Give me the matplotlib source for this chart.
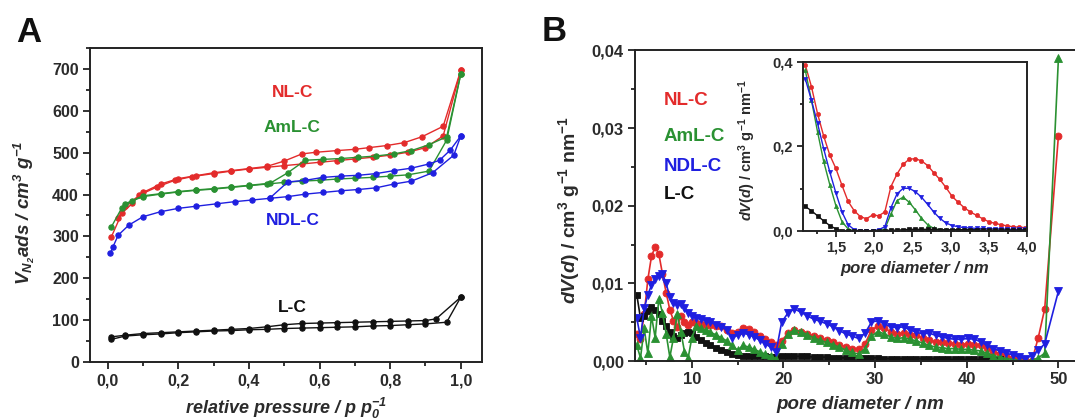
import numpy as np
import matplotlib
matplotlib.use("Agg")
import matplotlib.pyplot as plt
from matplotlib.ticker import MultipleLocator, FuncFormatter

plt.rcParams["font.family"] = ["Liberation Sans", "DejaVu Sans"]
plt.rcParams["mathtext.fontset"] = "custom"
plt.rcParams["mathtext.rm"] = "Liberation Sans:bold"
plt.rcParams["mathtext.it"] = "Liberation Sans:bold:italic"
plt.rcParams["mathtext.bf"] = "Liberation Sans:bold"
plt.rcParams["mathtext.default"] = "regular"

RED, GREEN, BLUE, BLACK = "#e32b2b", "#2a9132", "#1f1fe0", "#111111"
TXT = "#2b2b2b"

# ---------------- panel A: N2 sorption isotherms ----------------
samples = ["NL-C", "AmL-C", "NDL-C", "L-C"]

nlc_p_ads = [0.01, 0.04, 0.07, 0.09, 0.14, 0.19, 0.24, 0.30, 0.35, 0.40, 0.45,
             0.50, 0.55, 0.60, 0.65, 0.70, 0.75, 0.80, 0.85, 0.90, 0.95, 1.00]
nlc_v_ads = [298, 355, 379, 399, 418, 434, 443, 450, 456, 461, 465,
             469, 473, 477, 481, 485, 489, 494, 501, 512, 540, 697]
nlc_p_des = [1.00, 0.95, 0.89, 0.84, 0.79, 0.74, 0.70, 0.65, 0.59, 0.55, 0.50,
             0.45, 0.40, 0.35, 0.30, 0.25, 0.20, 0.15, 0.10, 0.05, 0.03]
nlc_v_des = [697, 563, 538, 524, 517, 512, 508, 505, 501, 497, 480,
             467, 462, 457, 452, 445, 438, 425, 405, 372, 345]

aml_p_ads = [0.01, 0.04, 0.07, 0.10, 0.15, 0.20, 0.25, 0.30, 0.35, 0.40, 0.45,
             0.50, 0.55, 0.60, 0.65, 0.70, 0.75, 0.80, 0.85, 0.91, 0.96, 1.00]
aml_v_ads = [322, 368, 385, 395, 401, 406, 410, 413, 417, 421, 425,
             429, 432, 434, 437, 439, 441, 444, 447, 456, 530, 688]
aml_p_des = [1.00, 0.96, 0.91, 0.86, 0.81, 0.76, 0.71, 0.66, 0.61, 0.56, 0.51,
             0.46, 0.40, 0.35, 0.30, 0.25, 0.20, 0.15, 0.10, 0.05]
aml_v_des = [688, 538, 519, 505, 497, 492, 489, 486, 484, 482, 452,
             427, 422, 418, 414, 411, 407, 402, 397, 378]

ndl_p_ads = [0.008, 0.015, 0.03, 0.06, 0.10, 0.15, 0.20, 0.25, 0.31, 0.36, 0.41,
             0.46, 0.51, 0.56, 0.61, 0.66, 0.71, 0.76, 0.81, 0.86, 0.92, 0.98, 1.00]
ndl_v_ads = [260, 275, 303, 327, 347, 359, 367, 372, 378, 383, 387,
             391, 395, 401, 405, 409, 412, 416, 425, 432, 452, 494, 540]
ndl_p_des = [1.00, 0.97, 0.94, 0.91, 0.86, 0.81, 0.76, 0.71, 0.66, 0.61, 0.56,
             0.51, 0.46]
ndl_v_des = [540, 506, 482, 473, 463, 457, 450, 446, 444, 441, 434,
             430, 392]

lc_p_ads = [0.01, 0.05, 0.10, 0.15, 0.20, 0.25, 0.30, 0.35, 0.40, 0.45, 0.50,
            0.55, 0.60, 0.65, 0.70, 0.75, 0.80, 0.85, 0.90, 0.96, 1.00]
lc_v_ads = [54, 62, 65, 67, 70, 72, 74, 75, 77, 78, 80,
            81, 82, 83, 84, 86, 87, 89, 91, 95, 155]
lc_p_des = [1.00, 0.93, 0.90, 0.85, 0.80, 0.75, 0.70, 0.65, 0.60, 0.55, 0.50,
            0.45, 0.40, 0.35, 0.30, 0.25, 0.20, 0.15, 0.10, 0.05, 0.01]
lc_v_des = [155, 103, 99, 98, 97, 96, 95, 94, 93, 92, 89,
            84, 80, 78, 76, 74, 72, 70, 68, 64, 60]

# ---------------- panel B: pore size distribution ----------------
pore_d = [4.0, 4.4, 4.8, 5.2, 5.6, 6.0, 6.4, 6.8, 7.2, 7.6, 8.0, 8.4, 8.8, 9.2, 9.6, 10.0,
          10.5, 11.0, 11.5, 12.0,
          12.6, 13.2, 13.8, 14.4, 15.0, 15.6, 16.2, 16.8, 17.4, 18.0, 18.6, 19.2, 19.8,
          20.5, 21.2, 21.9, 22.6, 23.3, 24.0, 24.7, 25.4, 26.1, 26.8, 27.5, 28.2, 28.9, 29.6,
          30.3, 31.0, 31.7, 32.4, 33.1, 33.8, 34.5, 35.2, 35.9, 36.6, 37.3, 38.0, 38.7, 39.4,
          40.1, 40.8, 41.5, 42.2, 42.9, 43.6, 44.3, 45.0, 45.7, 46.4, 47.1, 47.8,
          48.5, 50.0]

psd_nlc = [0.0035, 0.0028, 0.0060, 0.0105, 0.0135, 0.0147, 0.0138, 0.0112, 0.0088, 0.0066,
           0.0052, 0.0044, 0.0058, 0.0050, 0.0047, 0.0050,
           0.0049, 0.0048, 0.0047, 0.0046,
           0.0045, 0.0045, 0.0040, 0.0036, 0.0038, 0.0042, 0.0041, 0.0037, 0.0032, 0.0028,
           0.0024, 0.0020, 0.0026,
           0.0036, 0.0040, 0.0038, 0.0035, 0.0032, 0.0030, 0.0027, 0.0025, 0.0021, 0.0018,
           0.0016, 0.0015, 0.0022, 0.0040, 0.0045, 0.0042, 0.0038, 0.0035, 0.0036, 0.0034,
           0.0033, 0.0029, 0.0027, 0.0025, 0.0024, 0.0023, 0.0022, 0.0021, 0.0022, 0.0021,
           0.0020, 0.0017, 0.0012, 0.0009, 0.0006, 0.0004, 0.0002, 0.0001, 0.0000, 0.0030,
           0.0067, 0.0290]
psd_aml = [0.0020, 0.0004, 0.0042, 0.0010, 0.0058, 0.0030, 0.0080, 0.0062, 0.0035, 0.0005,
           0.0030, 0.0060, 0.0038, 0.0012, 0.0004, 0.0030,
           0.0045, 0.0042, 0.0040, 0.0037,
           0.0034, 0.0030, 0.0026, 0.0020, 0.0014, 0.0020, 0.0018, 0.0015, 0.0012, 0.0009,
           0.0006, 0.0003, 0.0022,
           0.0035, 0.0040, 0.0038, 0.0034, 0.0030, 0.0027, 0.0024, 0.0021, 0.0018, 0.0014,
           0.0011, 0.0009, 0.0016, 0.0032, 0.0038, 0.0035, 0.0031, 0.0029, 0.0030, 0.0028,
           0.0026, 0.0023, 0.0020, 0.0018, 0.0017, 0.0016, 0.0016, 0.0015, 0.0015, 0.0014,
           0.0013, 0.0010, 0.0007, 0.0005, 0.0003, 0.0002, 0.0001, 0.0000, 0.0001, 0.0004,
           0.0010, 0.0390]
psd_ndl = [0.0055, 0.0030, 0.0068, 0.0085, 0.0098, 0.0106, 0.0110, 0.0112, 0.0100, 0.0082,
           0.0075, 0.0072, 0.0073, 0.0068, 0.0062, 0.0058,
           0.0055, 0.0054, 0.0052, 0.0050,
           0.0047, 0.0044, 0.0040, 0.0030, 0.0033, 0.0036, 0.0034, 0.0031, 0.0027, 0.0022,
           0.0018, 0.0012, 0.0050,
           0.0062, 0.0067, 0.0063, 0.0058, 0.0054, 0.0051, 0.0048, 0.0044, 0.0039, 0.0035,
           0.0032, 0.0029, 0.0036, 0.0050, 0.0052, 0.0048, 0.0044, 0.0043, 0.0044, 0.0040,
           0.0037, 0.0035, 0.0036, 0.0033, 0.0031, 0.0029, 0.0028, 0.0028, 0.0029, 0.0028,
           0.0025, 0.0020, 0.0016, 0.0013, 0.0010, 0.0008, 0.0005, 0.0003, 0.0007, 0.0014,
           0.0022, 0.0090]
psd_lc = [0.0085, 0.0055, 0.0058, 0.0065, 0.0070, 0.0066, 0.0060, 0.0052, 0.0045, 0.0038,
          0.0032, 0.0030, 0.0033, 0.0036, 0.0038, 0.0036,
          0.0031, 0.0027, 0.0023, 0.0020,
          0.0017, 0.0014, 0.0011, 0.0009, 0.0008, 0.0007, 0.0007, 0.0006, 0.0006, 0.0006,
          0.0005, 0.0005, 0.0007,
          0.0007, 0.0006, 0.0006, 0.0006, 0.0005, 0.0005, 0.0005, 0.0004, 0.0004, 0.0004,
          0.0004, 0.0004, 0.0004, 0.0004, 0.0004, 0.0003, 0.0003, 0.0003, 0.0003, 0.0003,
          0.0003, 0.0003, 0.0003, 0.0003, 0.0002, 0.0002, 0.0002, 0.0002, 0.0002, 0.0002,
          0.0002, 0.0002, 0.0002, 0.0002, np.nan, np.nan, np.nan, np.nan, np.nan, np.nan,
          np.nan, np.nan]

# micropore region (inset)
inset_d = [1.10, 1.18, 1.26, 1.34, 1.42, 1.50, 1.58, 1.66, 1.74, 1.82, 1.90, 1.98, 2.06,
           2.14, 2.22, 2.30, 2.38, 2.46, 2.54, 2.62, 2.70, 2.78, 2.86, 2.94, 3.02, 3.10,
           3.18, 3.26, 3.34, 3.42, 3.50, 3.58, 3.66, 3.74, 3.82, 3.90, 3.98]
inset_nlc = [0.393, 0.342, 0.278, 0.225, 0.180, 0.148, 0.108, 0.070, 0.048, 0.034, 0.029,
             0.038, 0.036, 0.045, 0.105, 0.135, 0.158, 0.170, 0.171, 0.166, 0.155, 0.138,
             0.122, 0.103, 0.082, 0.068, 0.055, 0.045, 0.037, 0.029, 0.022, 0.018, 0.015,
             0.012, 0.010, 0.009, 0.008]
inset_aml = [0.380, 0.310, 0.235, 0.165, 0.110, 0.060, 0.022, 0.005, 0.000, 0.000, 0.000,
             0.000, 0.000, 0.005, 0.040, 0.072, 0.080, 0.068, 0.050, 0.030, 0.015, 0.006,
             0.003, 0.002, 0.002, 0.002, 0.002, 0.002, 0.001, 0.001, 0.001, 0.001, 0.001,
             0.001, 0.001, 0.001, 0.001]
inset_ndl = [0.360, 0.310, 0.255, 0.195, 0.140, 0.090, 0.045, 0.015, 0.003, 0.000, 0.000,
             0.001, 0.003, 0.010, 0.055, 0.088, 0.101, 0.101, 0.093, 0.080, 0.063, 0.045,
             0.030, 0.019, 0.013, 0.010, 0.008, 0.007, 0.006, 0.006, 0.005, 0.005, 0.005,
             0.004, 0.004, 0.004, 0.004]
inset_lc = [0.058, 0.048, 0.036, 0.024, 0.013, 0.005, 0.001, 0.000, 0.000, 0.000, 0.000,
            0.000, 0.001, 0.001, 0.002, 0.002, 0.003, 0.004, 0.004, 0.004, 0.004, 0.004,
            0.003, 0.003, 0.003, 0.003, 0.003, 0.003, 0.003, 0.002, 0.002, 0.002, 0.002,
            0.002, 0.002, 0.002, 0.002]


def comma(decimals):
    return FuncFormatter(lambda v, _: f"{v:.{decimals}f}".replace(".", ","))


def style_axes(ax, size):
    for side in ("left", "bottom", "top", "right"):
        ax.spines[side].set_linewidth(1.4)
        ax.spines[side].set_color("#222222")
    ax.tick_params(which="both", direction="out", top=False, right=False,
                   colors="#222222", labelcolor=TXT, width=1.3, labelsize=size)
    ax.tick_params(which="major", length=5, pad=3)
    ax.tick_params(which="minor", length=3)
    for lab in ax.get_xticklabels() + ax.get_yticklabels():
        lab.set_fontweight("bold")


fig = plt.figure(figsize=(10.75, 4.19), dpi=100)
W, H = 1075.0, 419.0
LABEL = dict(fontweight="bold", color=TXT)

# ---- A ----
axA = fig.add_axes([90 / W, 1 - 362 / H, 392 / W, 314 / H])
mk = dict(marker="o", markersize=3.8, linewidth=1.0, markeredgewidth=0.8)
iso = [
    (nlc_p_ads, nlc_v_ads, nlc_p_des, nlc_v_des, RED),
    (aml_p_ads, aml_v_ads, aml_p_des, aml_v_des, GREEN),
    (ndl_p_ads, ndl_v_ads, ndl_p_des, ndl_v_des, BLUE),
    (lc_p_ads, lc_v_ads, lc_p_des, lc_v_des, BLACK),
]
for pa, va, pd, vd, c in iso:
    axA.plot(pa, va, color=c, **mk)
    axA.plot(pd, vd, color=c, **mk)
axA.set_xlim(-0.05, 1.06)
axA.set_ylim(0, 750)
axA.xaxis.set_major_locator(MultipleLocator(0.2))
axA.xaxis.set_minor_locator(MultipleLocator(0.1))
axA.yaxis.set_major_locator(MultipleLocator(100))
axA.yaxis.set_minor_locator(MultipleLocator(50))
axA.xaxis.set_major_formatter(comma(1))
style_axes(axA, 11.5)
axA.set_xlabel(r"relative pressure / p p$_0^{-1}$", fontsize=13, style="italic", **LABEL)
axA.set_ylabel(r"V$_{N_2}$ads / cm$^3$ g$^{-1}$", fontsize=13.5, style="italic", **LABEL)
axA.xaxis.set_label_coords(0.5, -0.108)
axA.yaxis.set_label_coords(-0.135, 0.475)
for name, y, c in zip(samples, [643, 561, 337, 129], [RED, GREEN, BLUE, BLACK]):
    axA.text(0.523, y, name, color=c, fontsize=12.5, fontweight="bold",
             ha="center", va="center")

# ---- B ----
axB = fig.add_axes([635 / W, 1 - 361 / H, 450 / W, 310.5 / H])
series = [
    (psd_nlc, RED, "o", 5.0),
    (psd_lc, BLACK, "s", 4.2),
    (psd_aml, GREEN, "^", 5.4),
    (psd_ndl, BLUE, "v", 5.4),
]
for vals, c, m, ms in series:
    axB.plot(pore_d, vals, color=c, marker=m, markersize=ms, linewidth=1.2,
             markeredgewidth=0.6)
axB.set_xlim(3.8, 52.9)
axB.set_ylim(0, 0.04)
axB.set_xticks([10, 20, 30, 40, 50])
axB.xaxis.set_minor_locator(MultipleLocator(5))
axB.yaxis.set_major_locator(MultipleLocator(0.01))
axB.yaxis.set_minor_locator(MultipleLocator(0.005))
axB.yaxis.set_major_formatter(comma(2))
style_axes(axB, 12)
axB.spines["right"].set_visible(False)
axB.set_xlabel("pore diameter / nm", fontsize=13.5, style="italic", **LABEL)
axB.set_ylabel(r"$\mathit{dV(d)}$ / cm$^3$ g$^{-1}$ nm$^{-1}$", fontsize=14, **LABEL)
axB.xaxis.set_label_coords(0.5, -0.113)
axB.yaxis.set_label_coords(-0.118, 0.486)
for name, y, c in zip(samples, [0.0335, 0.0289, 0.0250, 0.0214], [RED, GREEN, BLUE, BLACK]):
    axB.text(6.9, y, name, color=c, fontsize=13.5, fontweight="bold",
             ha="left", va="center")

# ---- inset ----
axI = fig.add_axes([803 / W, 1 - 231 / H, 224 / W, 169 / H])
inset = [
    (inset_nlc, RED, "o"),
    (inset_aml, GREEN, "^"),
    (inset_ndl, BLUE, "v"),
    (inset_lc, BLACK, "s"),
]
for vals, c, m in inset:
    axI.plot(inset_d, vals, color=c, marker=m, markersize=3.0, linewidth=1.0,
             markeredgewidth=0.5)
axI.set_xlim(1.07, 4.0)
axI.set_ylim(0, 0.4)
axI.set_xticks([1.5, 2.0, 2.5, 3.0, 3.5, 4.0])
axI.xaxis.set_minor_locator(MultipleLocator(0.25))
axI.yaxis.set_major_locator(MultipleLocator(0.2))
axI.yaxis.set_minor_locator(MultipleLocator(0.1))
axI.xaxis.set_major_formatter(comma(1))
axI.yaxis.set_major_formatter(comma(1))
style_axes(axI, 10.5)
axI.tick_params(which="major", length=4)
axI.tick_params(which="minor", length=2.5)
axI.set_xlabel("pore diameter / nm", fontsize=12, style="italic", **LABEL)
axI.set_ylabel(r"$\mathit{dV(d)}$ / cm$^3$ g$^{-1}$ nm$^{-1}$", fontsize=10.5, **LABEL)
axI.xaxis.set_label_coords(0.5, -0.175)
axI.yaxis.set_label_coords(-0.2, 0.48)

# panel letters
fig.text(16 / W, 1 - 42 / H, "A", fontsize=25, fontweight="bold", color="#111111",
         va="baseline", ha="left")
fig.text(542 / W, 1 - 41 / H, "B", fontsize=25, fontweight="bold", color="#111111",
         va="baseline", ha="left")

fig.savefig("out.png", dpi=100)
